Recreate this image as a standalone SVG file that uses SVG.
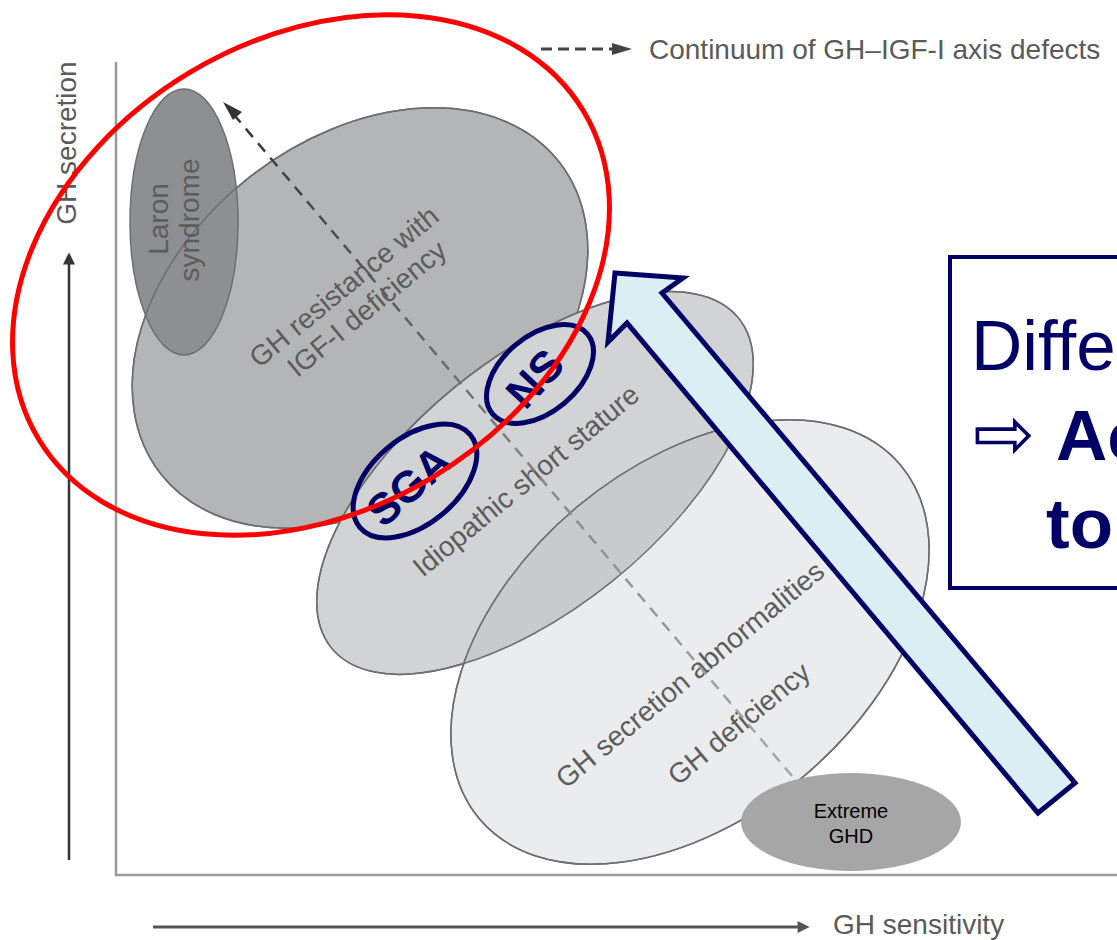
<svg xmlns="http://www.w3.org/2000/svg" width="1117" height="940" viewBox="0 0 1117 940">
<style>
.bg{fill:#ffffff}
.shape{stroke:#6e6e70;stroke-width:1.5}
.outline{fill:none;stroke:#6e6e70;stroke-width:1.5}
.lbl{font-family:"Liberation Sans",Arial,sans-serif;font-size:28px;fill:#5c5c5c;text-anchor:middle}
.ax{font-family:"Liberation Sans",Arial,sans-serif;font-size:28px;fill:#5a5a5a}
.navy{fill:none;stroke:#000066;stroke-width:5}
.navytxt{font-family:"Liberation Sans",Arial,sans-serif;font-weight:bold;font-size:44px;fill:#000066;text-anchor:middle}
.boxtxt{font-family:"Liberation Sans",Arial,sans-serif;fill:#000066;font-size:71px}
</style>
<defs>
<marker id="headAxis" viewBox="0 0 10 10" refX="2" refY="5" markerWidth="18" markerHeight="12" markerUnits="userSpaceOnUse" orient="auto">
<path d="M0,0 L10,5 L0,10 z" fill="#333333"/>
</marker>
<marker id="headGray" viewBox="0 0 10 10" refX="2" refY="5" markerWidth="18" markerHeight="12" markerUnits="userSpaceOnUse" orient="auto">
<path d="M0,0 L10,5 L0,10 z" fill="#555555"/>
</marker>
<linearGradient id="dashGrad" gradientUnits="userSpaceOnUse" x1="224" y1="104" x2="792" y2="776">
<stop offset="0" stop-color="#333333"/>
<stop offset="0.25" stop-color="#555555"/>
<stop offset="0.6" stop-color="#8c8c8e"/>
<stop offset="1" stop-color="#a8a8aa"/>
</linearGradient>
<ellipse id="ghresShape" cx="360" cy="318" rx="253" ry="179" transform="rotate(-38 360 318)"/>
<ellipse id="issShape" cx="535" cy="483" rx="262" ry="125" transform="rotate(-39 535 483)"/>
<ellipse id="ghsecShape" cx="690" cy="642" rx="275" ry="176" transform="rotate(-40 690 642)"/>
<clipPath id="issClip">
<ellipse cx="535" cy="483" rx="262" ry="125" transform="rotate(-39 535 483)"/>
</clipPath>
</defs>
<rect class="bg" x="0" y="0" width="1117" height="940"/>

<g id="axes">
<polyline points="116,62 116,875 1117,875" fill="none" stroke="#9a9a9a" stroke-width="2.5"/>
<line x1="69" y1="860" x2="69" y2="262" stroke="#333333" stroke-width="2.5" marker-end="url(#headAxis)"/>
<text class="ax" transform="translate(76,143) rotate(-90)" text-anchor="middle">GH secretion</text>
<line x1="153" y1="927" x2="800" y2="927" stroke="#555555" stroke-width="3" marker-end="url(#headGray)"/>
<text class="ax" x="833" y="934">GH sensitivity</text>
</g>

<g id="gh-resistance">
<use href="#ghresShape" fill="#b4b5b7" class="shape"/>
<text class="lbl" transform="translate(350,294) rotate(-39.5)">GH resistance with</text>
<text class="lbl" transform="translate(373,316) rotate(-39.5)">IGF-I deficiency</text>
</g>

<g id="laron-syndrome">
<ellipse cx="184" cy="222" rx="54" ry="133" fill="#8e8f91" class="shape"/>
<use href="#ghresShape" class="outline"/>
<text class="lbl" transform="translate(168,219) rotate(-90)">Laron</text>
<text class="lbl" transform="translate(199,220) rotate(-90)">syndrome</text>
</g>

<g id="idiopathic-short-stature">
<use href="#issShape" fill="#d2d3d5" class="shape"/>
<text class="lbl" transform="translate(532,488) rotate(-39.5)">Idiopathic short stature</text>
</g>

<g id="gh-secretion-abnormalities">
<use href="#ghsecShape" fill="#ebeced" class="shape"/>
<use href="#ghsecShape" fill="#c9cacc" clip-path="url(#issClip)"/>
<use href="#issShape" class="outline"/>
<use href="#ghsecShape" class="outline"/>
<text class="lbl" transform="translate(532,488) rotate(-39.5)" clip-path="url(#issClip)">Idiopathic short stature</text>
<text class="lbl" transform="translate(696,682) rotate(-39.5)">GH secretion abnormalities</text>
<text class="lbl" transform="translate(745,731) rotate(-39.5)">GH deficiency</text>
</g>

<g id="connectors">
<line x1="792" y1="776" x2="230" y2="110" stroke="url(#dashGrad)" stroke-width="2.5" stroke-dasharray="11 8"/>
<path d="M223,102 L242,112 L233,120 z" fill="#333333"/>
<line x1="541" y1="49" x2="612" y2="49" stroke="#444444" stroke-width="3" stroke-dasharray="11 6"/>
<path d="M632,49 L612,43 L612,55 z" fill="#444444"/>
</g>
<text class="ax" x="649" y="59" fill="#555555">Continuum of GH–IGF-I axis defects</text>

<g id="extreme-ghd">
<ellipse cx="851" cy="822" rx="110" ry="49" fill="#a6a6a6"/>
<text x="851" y="818" font-family="'Liberation Sans',Arial,sans-serif" font-size="20" fill="#000000" text-anchor="middle">Extreme</text>
<text x="851" y="843" font-family="'Liberation Sans',Arial,sans-serif" font-size="20" fill="#000000" text-anchor="middle">GHD</text>
</g>

<g id="sga">
<ellipse cx="415" cy="481" rx="72" ry="43" transform="rotate(-40 415 481)" class="navy"/>
<text class="navytxt" transform="translate(419,497) rotate(-42)">SGA</text>
</g>

<g id="ns">
<ellipse cx="540" cy="374" rx="62" ry="38" transform="rotate(-40 540 374)" class="navy"/>
<text class="navytxt" transform="translate(546,389) rotate(-47)">NS</text>
</g>

<g id="red-highlight">
<ellipse cx="311" cy="275" rx="318" ry="236" transform="rotate(-31 311 275)" fill="none" stroke="#ff0000" stroke-width="5"/>
</g>

<g id="block-arrow">
<polygon points="615,273 683,278 662,293 1075,783 1038,813 627,323 608,342" fill="#daeef3" stroke="#000066" stroke-width="5" stroke-linejoin="miter"/>
</g>

<g id="text-box">
<rect x="950" y="257" width="200" height="331" fill="#ffffff" stroke="#000066" stroke-width="4"/>
<text class="boxtxt" x="971" y="370">Diffe</text>
<text x="973" y="459" font-family="'DejaVu Sans',sans-serif" font-weight="200" font-size="74" fill="#000066">⇨</text>
<text class="boxtxt" x="1056" y="460" font-weight="bold">Ac</text>
<text class="boxtxt" x="1046" y="548" font-weight="bold">to</text>
</g>
</svg>
